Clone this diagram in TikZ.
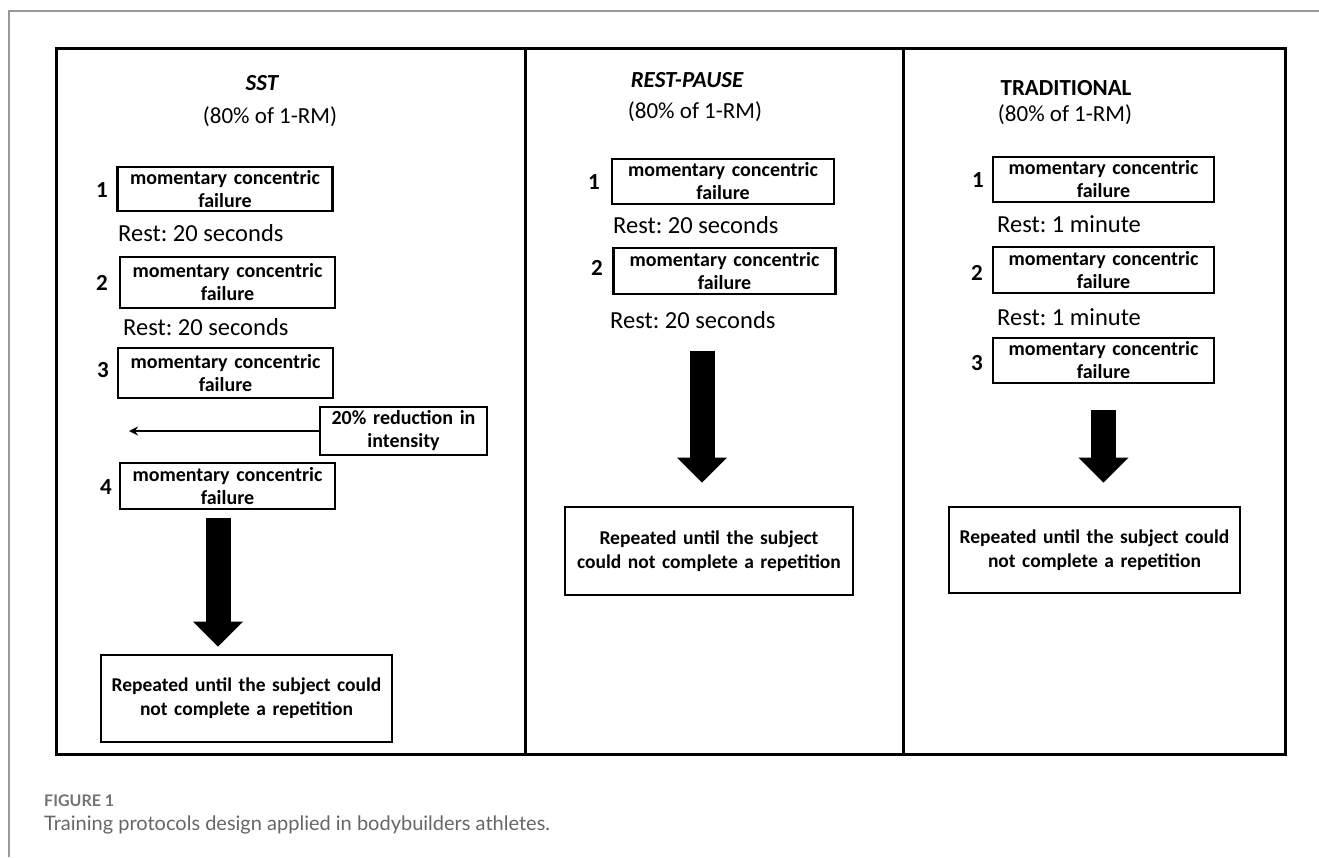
\documentclass[tikz,border=0pt]{standalone}
\usepackage{fontspec}
\setmainfont{Carlito}
\newfontfamily\capfont{Lato}
\usepackage{xcolor}
\usetikzlibrary{arrows.meta}
\frenchspacing

\begin{document}
\begin{tikzpicture}[
    x=1pt, y=-1pt,
    every node/.style={inner sep=0pt},
    fbox/.style={draw, line width=2.4pt, align=center, text width=215pt,
      minimum height=46pt, font=\bfseries\fontsize{20}{23}\selectfont},
    num/.style={font=\bfseries\fontsize{23}{23}\selectfont},
    rest/.style={anchor=west, font=\fontsize{24.5}{24.5}\selectfont},
    ttl/.style={font=\bfseries\fontsize{23}{23}\selectfont},
    pct/.style={font=\fontsize{23}{23}\selectfont},
    repbox/.style={draw, line width=2.6pt, align=center,
      font=\bfseries\fontsize{19.5}{24}\selectfont},
    big/.style={line width=25pt,
      -{Triangle[length=25pt,width=50pt,line width=0pt]}},
  ]
  \useasboundingbox (0,0) rectangle (1319,857);

  % -- page edge and frame --
  \draw[black!40, line width=1.2pt] (1319,11) -- (9,11) -- (9,857);
  \draw[line width=3pt] (56,48) rectangle (1285,754);
  \draw[line width=3pt] (525,48) -- (525,754);
  \draw[line width=3pt] (903,48) -- (903,754);

  % -- SST --
  \node[ttl,font=\bfseries\itshape\fontsize{23}{23}\selectfont] (sst) at (262,83) {SST};
  \node[pct] (sstpct) at (270,117) {(80\% of 1-RM)};
  \node[fbox,minimum height=44pt] (s1) at (225,189) {momentary concentric\\failure};
  \node[num] (sn1) at (102,190) {1};
  \node[rest] (sr1) at (118,233) {Rest: 20 seconds};
  \node[fbox,minimum height=51pt] (s2) at (227.5,282.5) {momentary concentric\\failure};
  \node[num] (sn2) at (102,283) {2};
  \node[rest] (sr2) at (123,327) {Rest: 20 seconds};
  \node[fbox,minimum height=50pt] (s3) at (225.5,373) {momentary concentric\\failure};
  \node[num] (sn3) at (103,370) {3};
  \node[fbox,text width=167pt,minimum height=48pt] (red) at (403.5,431)
       {20\% reduction in\\intensity};
  \coordinate (lft) at (129,431);
  \node[fbox] (s4) at (227.5,486) {momentary concentric\\failure};
  \node[num] (sn4) at (106,487) {4};
  \node[repbox,text width=291pt,minimum height=87pt] (rep1) at (246.5,698.5)
       {Repeated until the subject could\\not complete a repetition};

  \draw[line width=2pt,-{Stealth[length=9pt,width=9pt]}] (red.west) -- (lft);
  \coordinate (a1) at ([xshift=-9.5pt]s4.south);
  \draw[big,shorten <=8pt,shorten >=7pt] (a1) -- (a1 |- rep1.north);

  % -- REST-PAUSE --
  \node[ttl,font=\bfseries\itshape\fontsize{23}{23}\selectfont] (rp) at (687,80) {REST-PAUSE};
  \node[pct] (rppct) at (695,112) {(80\% of 1-RM)};
  \node[fbox,text width=222pt,minimum height=45pt] (p1) at (723,181.5) {momentary concentric\\failure};
  \node[num] (pn1) at (594,182) {1};
  \node[rest] (pr1) at (613,225) {Rest: 20 seconds};
  \node[fbox,text width=222pt] (p2) at (724.5,271) {momentary concentric\\failure};
  \node[num] (pn2) at (597,268) {2};
  \node[rest] (pr2) at (610,320) {Rest: 20 seconds};
  \node[repbox,text width=288pt,minimum height=88pt] (rep2) at (709,551)
       {Repeated until the subject\\could not complete a repetition};

  \coordinate (a2) at ([xshift=-7pt]rep2.north);
  \draw[big,shorten <=22pt,shorten >=23pt] (a2 |- pr2.south) -- (a2);

  % -- TRADITIONAL --
  \node[ttl] (tr) at (1066,88) {TRADITIONAL};
  \node[pct] (trpct) at (1065,115) {(80\% of 1-RM)};
  \node[fbox,text width=221pt,minimum height=45pt] (t1) at (1103.5,179.5) {momentary concentric\\failure};
  \node[num] (tn1) at (978,180) {1};
  \node[rest] (tr1) at (997,224) {Rest: 1 minute};
  \node[fbox,text width=221pt] (t2) at (1103.5,270) {momentary concentric\\failure};
  \node[num] (tn2) at (977,273) {2};
  \node[rest] (tr2) at (997,317) {Rest: 1 minute};
  \node[fbox,text width=221pt,minimum height=45pt] (t3) at (1103.5,360.5) {momentary concentric\\failure};
  \node[num] (tn3) at (977,363) {3};
  \node[repbox,text width=291pt,minimum height=86pt] (rep3) at (1094.5,550)
       {Repeated until the subject could\\not complete a repetition};

  \draw[big,shorten <=26pt,shorten >=23pt] (t3.south) -- (t3.south |- rep3.north);

  % -- caption --
  \node[anchor=west,text=black!55,font=\capfont\bfseries\fontsize{16}{16}\selectfont] (fig) at (44,801) {FIGURE 1};
  \node[anchor=west,text=black!60,font=\capfont\fontsize{20}{20}\selectfont] (cap) at (44,825)
       {Training protocols design applied in bodybuilders athletes.};
\end{tikzpicture}
\end{document}
